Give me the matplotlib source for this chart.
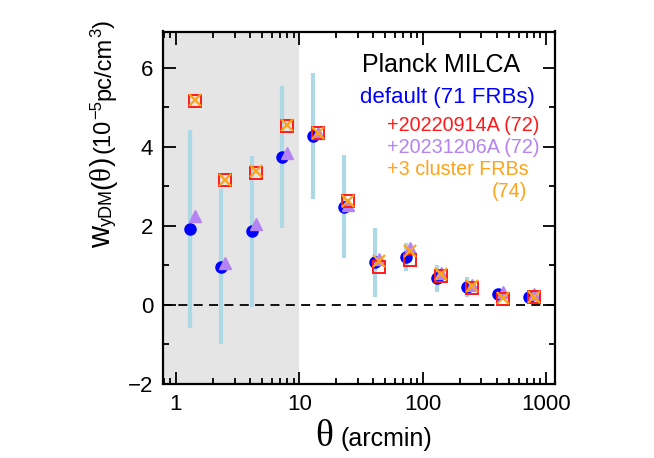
import matplotlib
matplotlib.use("Agg")
import matplotlib.pyplot as plt
from matplotlib.ticker import MultipleLocator, LogLocator, NullFormatter, FixedLocator, FixedFormatter
from matplotlib.transforms import IdentityTransform

# angular bins (arcmin)
theta = [1.3, 2.3, 4.1, 7.3, 13, 23, 41, 73, 130, 231, 411, 731]

# default (71 FRBs)
w_default = [1.92, 0.97, 1.86, 3.75, 4.28, 2.49, 1.08, 1.21, 0.67, 0.46, 0.29, 0.21]
err_default = [2.5, 1.97, 1.9, 1.8, 1.6, 1.3, 0.87, 0.35, 0.34, 0.25, 0.12, 0.10]
# +20220914A (72)
w_red = [5.16, 3.16, 3.35, 4.53, 4.35, 2.62, 0.95, 1.14, 0.74, 0.44, 0.15, 0.19]
# +20231206A (72)
w_purple = [2.24, 1.07, 2.05, 3.84, 4.35, 2.53, 1.16, 1.44, 0.82, 0.51, 0.34, 0.28]
# +3 cluster FRBs (74)
w_orange = [5.18, 3.16, 3.38, 4.56, 4.35, 2.64, 1.10, 1.37, 0.78, 0.48, 0.17, 0.21]

BLUE = "#0000ff"
RED = "#ff1a1a"
PURPLE = "#b583f2"
ORANGE = "#ffa31a"
ERRC = "#add8e6"

plt.rcParams["font.family"] = ["Liberation Sans", "DejaVu Sans"]

W, H = 654, 458
fig = plt.figure(figsize=(W / 100, H / 100), dpi=100)
ax = fig.add_axes([163 / W, 1 - 384 / H, (555 - 163) / W, (384 - 31.5) / H])

xlo, xhi = 0.785, 1186
ax.set_xscale("log")
ax.set_xlim(xlo, xhi)
ax.set_ylim(-2, 6.92)

ax.axvspan(xlo, 10, color="#e5e5e5", zorder=0, lw=0)
ax.axhline(0, color="k", ls=(0, (5, 3.5)), lw=1.3, zorder=1)

off = 1.088
x_off = [t * off for t in theta]

ax.errorbar(theta, w_default, yerr=err_default, fmt="none", ecolor=ERRC,
            elinewidth=3, capsize=0, zorder=2)
ax.plot(theta, w_default, "o", color=BLUE, ms=8, mec=BLUE, zorder=3)
ax.plot(x_off, w_purple, "^", color=PURPLE, ms=9, mec=PURPLE, zorder=4)
ax.plot(x_off, w_red, "s", mfc="none", mec=RED, ms=8, mew=1.4, zorder=5)
ax.plot(x_off, w_orange, "x", color=ORANGE, ms=8, mew=1.6, zorder=6)

ax.xaxis.set_major_locator(FixedLocator([1, 10, 100, 1000]))
ax.xaxis.set_major_formatter(FixedFormatter(["1", "10", "100", "1000"]))
ax.xaxis.set_minor_locator(LogLocator(base=10, subs=range(2, 10), numticks=20))
ax.xaxis.set_minor_formatter(NullFormatter())
ax.yaxis.set_major_locator(MultipleLocator(2))
ax.yaxis.set_minor_locator(MultipleLocator(1))
ax.tick_params(which="both", direction="in", top=True, right=True, width=1.3,
               labelsize=16, pad=7)
ax.tick_params(which="major", length=9)
ax.tick_params(which="minor", length=4.5)
for s in ax.spines.values():
    s.set_linewidth(1.6)

# annotation block (positions in image pixels)
def px(x, y):
    return x / W, 1 - y / H

notes = [
    ("Planck MILCA", 362, 72, "black", 18),
    ("default (71 FRBs)", 360, 103, BLUE, 16),
    ("+20220914A (72)", 387, 130.5, RED, 14.2),
    ("+20231206A (72)", 387, 152.5, PURPLE, 14.2),
    ("+3 cluster FRBs", 387, 175, ORANGE, 14.2),
    ("(74)", 492, 197, ORANGE, 14.2),
]
for s, x, y, c, fs in notes:
    fig.text(*px(x, y), s, color=c, fontsize=fs, ha="left", va="baseline")

# axis labels built from pieces with mixed sizes
renderer = fig.canvas.get_renderer()
SANS = ["Liberation Sans", "DejaVu Sans"]
SERIF = ["Liberation Serif", "DejaVu Serif"]


def chain(pieces, x, y, vertical):
    for s, size, shift, fam, gap in pieces:
        if vertical:
            y += gap
            t = fig.text(x + shift, y, s, rotation=90, rotation_mode="anchor",
                         ha="left", va="baseline", fontsize=size, family=fam,
                         transform=IdentityTransform())
            y = t.get_window_extent(renderer).y1
        else:
            x += gap
            t = fig.text(x, y + shift, s, ha="left", va="baseline",
                         fontsize=size, family=fam, transform=IdentityTransform())
            x = t.get_window_extent(renderer).x1


ylabel_pieces = [
    ("w", 22, 0, SANS, 0),
    ("yDM", 13, 2, SANS, 0),
    ("(", 20, 0, SANS, 0),
    ("θ", 21, 0, SERIF, 0),
    (")", 20, 0, SANS, 0),
    ("(10", 17, 0, SANS, 3),
    ("−5", 12, -9, SANS, 0),
    ("pc/cm", 17, 0, SANS, 0),
    ("3", 12, -9, SANS, 0),
    (")", 17, 0, SANS, 0),
]
chain(ylabel_pieces, 110, H - 248, True)

xlabel_pieces = [
    ("θ", 27, 0, SERIF, 0),
    ("(arcmin)", 18, 0, SANS, 8),
]
chain(xlabel_pieces, 315, H - 446, False)

fig.savefig("out.png", dpi=100)
